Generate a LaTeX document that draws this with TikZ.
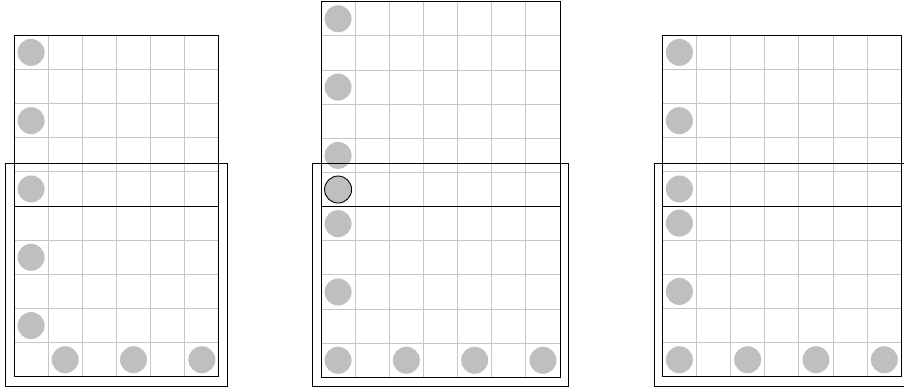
\documentclass[tikz,border=0pt]{standalone}
\definecolor{gridgray}{HTML}{C6C6C6}
\definecolor{dotgray}{HTML}{BFBFBF}
\begin{document}
\begin{tikzpicture}[x=1pt,y=-1pt,
  gridline/.style={draw=gridgray,line width=1pt},
  frame/.style={draw=black,line width=0.9pt},
  dot/.style={circle,fill=dotgray,minimum size=27pt,inner sep=0pt},
  hit/.style={dot,draw=black,line width=0.9pt}]
\useasboundingbox (0,0) rectangle (904,391);
\clip (0,0) rectangle (904,391);
% left panel
\begin{scope}[shift={(14,35.3)},x=34.15pt,y=-34.15pt]
  \foreach \i in {1,...,5} \draw[gridline] (\i,0) -- (\i,10);
  \foreach \j in {1,...,9} \draw[gridline] (0,\j) -- (6,\j);
  \draw[frame] (0,0) rectangle (6,10);
  \draw[frame] (0,5) -- (6,5);
  \foreach \r [count=\k] in {0,2,4,6,8} \node[dot] (La\k) at (0.5,\r+0.5) {};
  \foreach \c [count=\k] in {1,3,5} \node[dot] (Lb\k) at (\c+0.5,9.5) {};
\end{scope}
\draw[frame] (5,163.3) rectangle (227,386);
% middle panel
\begin{scope}[shift={(321,1.7)},x=34.15pt,y=-34.15pt]
  \foreach \i in {1,...,6} \draw[gridline] (\i,0) -- (\i,11);
  \foreach \j in {1,...,10} \draw[gridline] (0,\j) -- (7,\j);
  \draw[frame] (0,0) rectangle (7,11);
  \draw[frame] (0,6) -- (7,6);
  \foreach \r [count=\k] in {0,2,4,6,8,10} \node[dot] (Ma\k) at (0.5,\r+0.5) {};
  \node[hit] (Mh) at (0.5,5.5) {};
  \foreach \c [count=\k] in {2,4,6} \node[dot] (Mb\k) at (\c+0.5,10.5) {};
\end{scope}
\draw[frame] (312.3,163.3) rectangle (568.3,386);
% right panel
\begin{scope}[shift={(662.3,35.3)},x=34.15pt,y=-34.15pt]
  \foreach \i in {1,...,6} \draw[gridline] (\i,0) -- (\i,10);
  \foreach \j in {1,...,9} \draw[gridline] (0,\j) -- (7,\j);
  \draw[frame] (0,0) rectangle (7,10);
  \draw[frame] (0,5) -- (7,5);
  \foreach \r [count=\k] in {0,2,4,5,7,9} \node[dot] (Ra\k) at (0.5,\r+0.5) {};
  \foreach \c [count=\k] in {2,4,6} \node[dot] (Rb\k) at (\c+0.5,9.5) {};
\end{scope}
\draw[frame] (654,163.3) rectangle (914,386);
\end{tikzpicture}
\end{document}
